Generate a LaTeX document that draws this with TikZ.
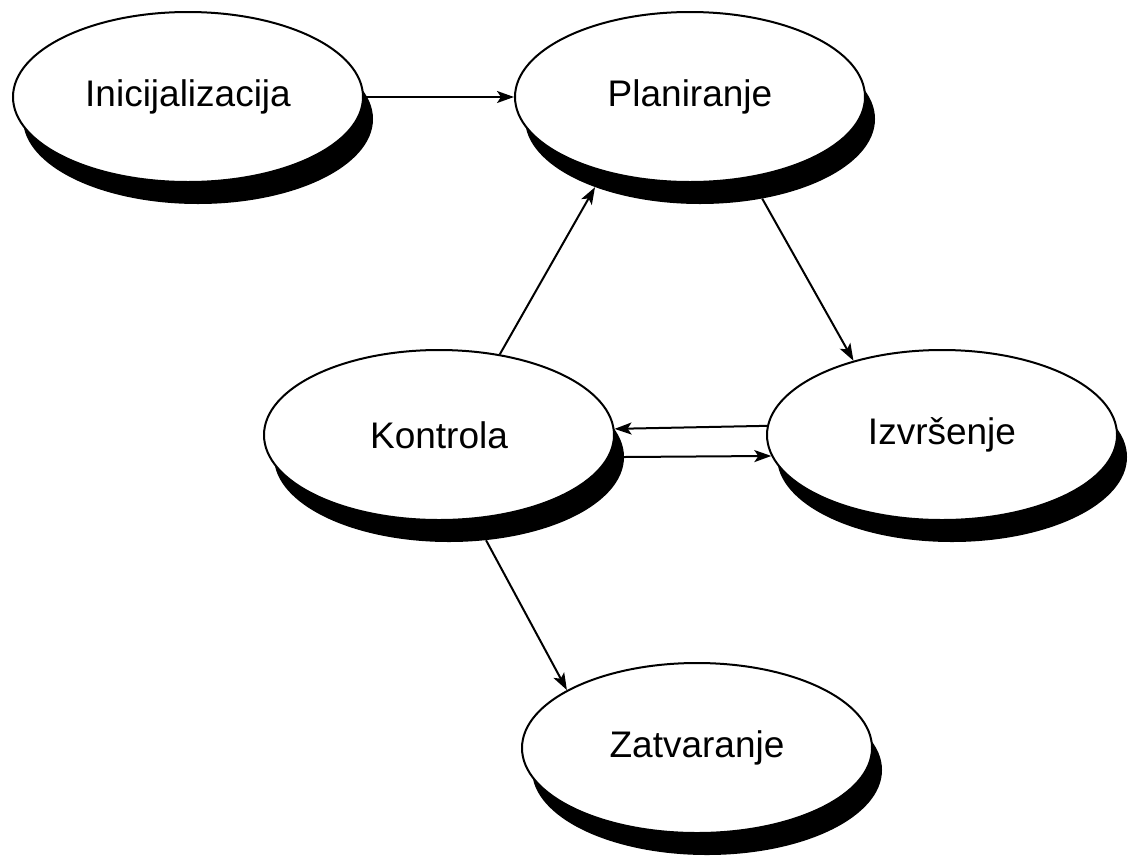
\documentclass[tikz,border=0pt]{standalone}
\usepackage{fontspec}
\setmainfont{Liberation Sans}
\usetikzlibrary{shapes.geometric,arrows.meta}
\begin{document}
\begin{tikzpicture}[x=1pt,y=-1pt,
  stage/.style={ellipse,draw=black,line width=2pt,fill=white,minimum width=350pt,minimum height=170pt,inner sep=0pt,font=\fontsize{37}{40}\selectfont},
  shade/.style={ellipse,fill=black,minimum width=350pt,minimum height=170pt,inner sep=0pt},
  conn/.style={line width=2pt,-{Stealth[length=17pt,width=12pt,inset=4pt]}}]
\useasboundingbox (0,0) rectangle (1134,860);
% shadows
\node[shade] (Inis) at (198,119) {};
\node[shade] (Pls) at (700,119) {};
\node[shade] (Ks) at (449,457) {};
\node[shade] (Izs) at (952,457) {};
\node[shade] (Zs) at (707,770) {};
% stages
\node[stage] (Ini) at (188,97) {Inicijalizacija};
\node[stage] (Pl) at (690,97) {Planiranje};
\node[stage] (K) at (439,435) {Kontrola};
\node[stage] (Iz) at (942,435) {Izvršenje};
\node[stage] (Z) at (697,748) {Zatvaranje};
% connectors
\draw[conn] (Ini.east) -- (Pl.west);
\draw[conn] (K.53) -- (Pls.213);
\draw[conn] (Pls.308) -- (Iz.140);
\draw[conn] (Iz.177.7) -- (K.2.3);
\draw[conn] (Ks.0) -- (Iz.187.4);
\draw[conn] (Ks.294.4) -- (Z.156.7);
\end{tikzpicture}
\end{document}
